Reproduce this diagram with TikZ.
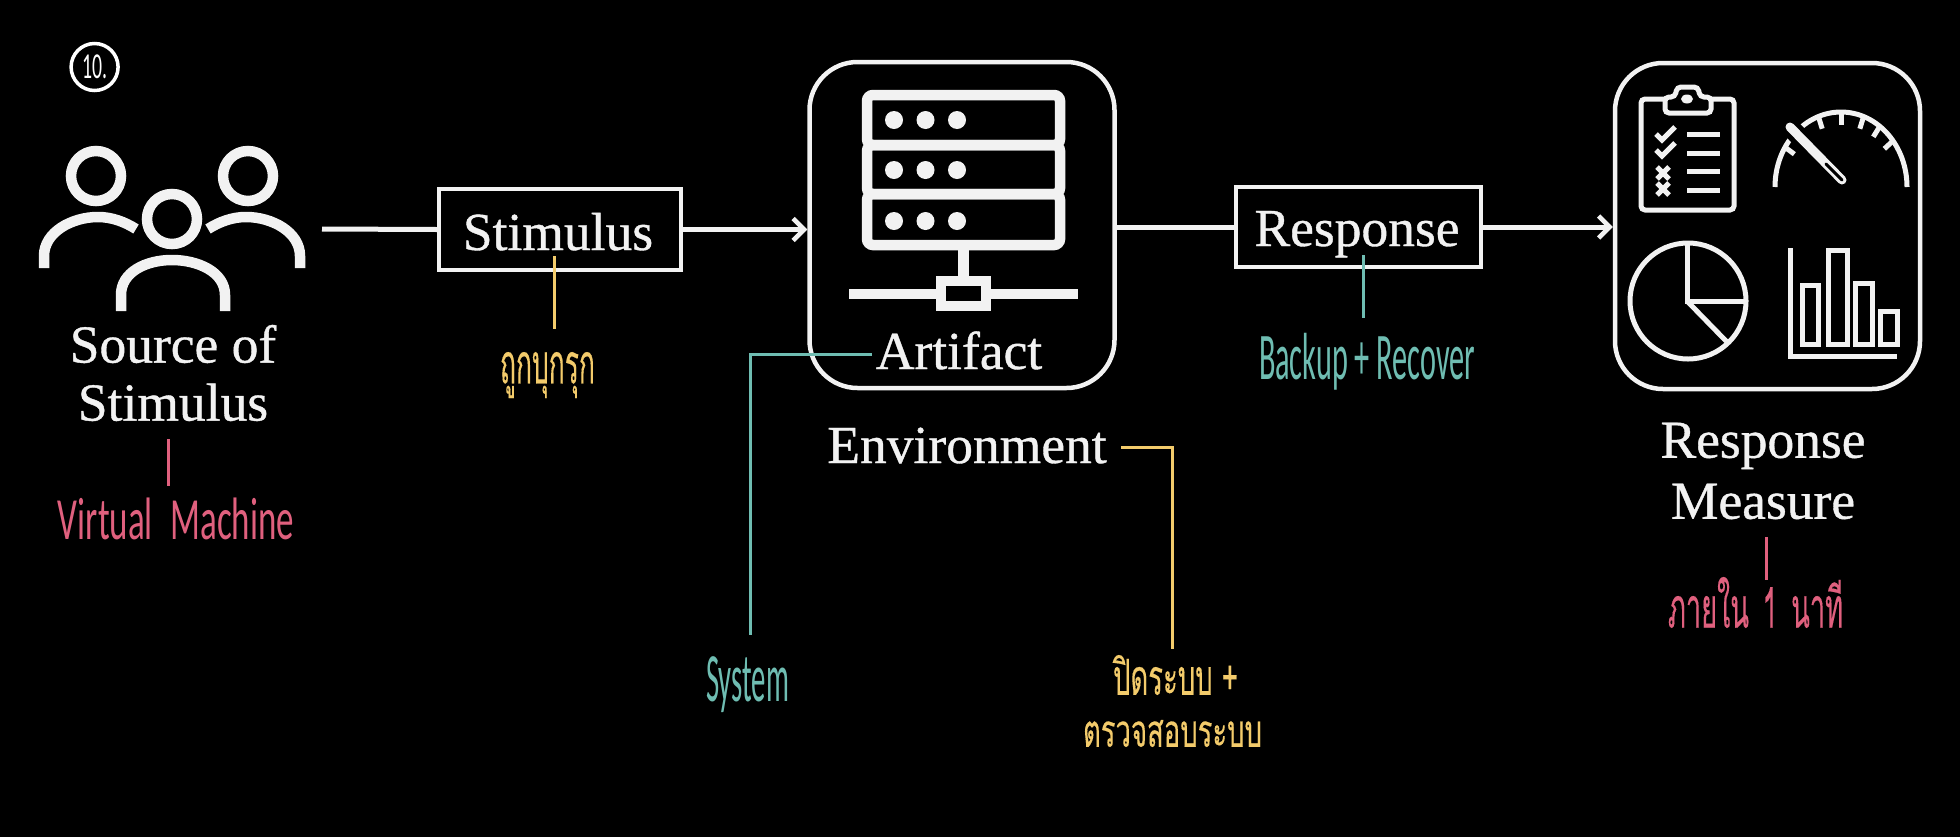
\documentclass[tikz,border=0pt]{standalone}
\usepackage{fontspec}
\usepackage{graphicx}
\usetikzlibrary{arrows.meta,calc}
\setmainfont{Liberation Serif}
\newfontfamily\serifheavy[FakeBold=0.7]{Liberation Serif}
\newfontfamily\thaihand[Script=Thai,FakeBold=0.3]{Loma}
\newfontfamily\latinhand{Carlito}
\definecolor{inkwhite}{HTML}{F2F2F2}
\definecolor{notepink}{HTML}{E0607E}
\definecolor{noteteal}{HTML}{6FBDB2}
\definecolor{noteyellow}{HTML}{F3CB6B}
\tikzset{
  x=1pt,y=-1pt,
  serifbig/.style={text=inkwhite,inner sep=0pt,font=\serifheavy\fontsize{53.5}{61}\selectfont,align=center},
  stimbox/.style={draw=inkwhite,line width=4pt,inner sep=0pt,fill=black},
  bigbox/.style={draw=inkwhite,line width=4.5pt,rounded corners=48pt,inner sep=0pt},
  flowline/.style={draw=inkwhite,line width=5pt},
  flowarrow/.style={flowline,-{Straight Barb[length=11pt,width=22pt,line width=4.5pt]}},
  icon/.style={draw=inkwhite,line width=10.5pt},
  iconthin/.style={draw=inkwhite,line width=5pt},
  pinknote/.style={draw=notepink,line width=3pt},
  tealnote/.style={draw=noteteal,line width=3pt},
  yellownote/.style={draw=noteyellow,line width=3pt},
  hand/.style={inner sep=0pt},
}
\begin{document}
\begin{tikzpicture}
\useasboundingbox (0,0) rectangle (1960,836);
\fill[black] (-5,-5) rectangle (1965,841);

% badge
\node[draw=white,line width=3.5pt,circle,minimum size=47pt,inner sep=0pt,text=white] (badge) at (94.6,67) {\resizebox*{25pt}{24pt}{\latinhand\fontsize{30}{32}\selectfont 10.}};

% people icon
\draw[icon] (96,176) circle (25pt);
\draw[icon] (248,176) circle (25pt);
\draw[icon] (172,219) circle (25pt);
\draw[icon] (44,268) -- (44,256) .. controls (44,232) and (72,217) .. (98,217) .. controls (112,217) and (125,222) .. (136,229);
\draw[icon] (300,268) -- (300,256) .. controls (300,232) and (272,217) .. (246,217) .. controls (232,217) and (219,222) .. (208,229);
\draw[icon] (121,311) -- (121,295) .. controls (121,272) and (146,260) .. (172,260) .. controls (198,260) and (225,272) .. (225,295) -- (225,311);

\node[serifbig] (source) at (173,373) {Source of\\[-3pt]Stimulus};
\node[stimbox,minimum width=242pt,minimum height=81pt] (stim) at (560,229.5) {};
\node[serifbig,anchor=base] (stimtext) at (558,250) {Stimulus};

% artifact
\node[bigbox,minimum width=305pt,minimum height=326pt] (art) at (962,225) {};
\draw[icon,rounded corners=6pt] (867,95) rectangle (1060,145);
\draw[icon,rounded corners=6pt] (867,145) rectangle (1060,194);
\draw[icon,rounded corners=6pt] (867,194) rectangle (1060,245);
\foreach \yy in {120,170,221}
  \foreach \xx in {894,925.5,957}
    \fill[inkwhite] (\xx,\yy) circle (9pt);
\draw[icon] (963.5,245) -- (963.5,281);
\draw[icon] (849,294) -- (941,294);
\draw[icon] (986,294) -- (1078,294);
\draw[icon] (941,281) rectangle (986,306);
\node[serifbig,anchor=base] (arttext) at (959,369) {Artifact};
\node[serifbig,anchor=base] (env) at (967,463) {Environment};

% response
\node[stimbox,minimum width=245pt,minimum height=80pt] (resp) at (1358.5,227) {};
\node[serifbig,anchor=base] (resptext) at (1357,246) {Response};

% measure box
\node[bigbox,minimum width=305pt,minimum height=326pt] (meas) at (1767.5,226) {};
\node[serifbig] (meastext) at (1763,471) {Response\\Measure};

% clipboard
\draw[iconthin,rounded corners=4pt] (1641,99) rectangle (1734,210);
\draw[iconthin,fill=black,rounded corners=4pt] (1665,113) -- (1665,97) -- (1675,97) -- (1677,87) -- (1698,87) -- (1700,97) -- (1711,97) -- (1711,113) -- cycle;
\fill[inkwhite] (1687,99) ellipse (6pt and 4.5pt);
\foreach \yy in {134,153,171,190}
  \draw[draw=inkwhite,line width=5pt] (1687,\yy) -- (1720,\yy);
\foreach \yy in {134,150}{
  \draw[draw=inkwhite,line width=5pt] (1656,\yy) -- (1662,\yy+6) -- (1675,\yy-7);
}
\foreach \yy in {173,189}{
  \draw[draw=inkwhite,line width=5pt] (1657,\yy-6) -- (1669,\yy+6);
  \draw[draw=inkwhite,line width=5pt] (1669,\yy-6) -- (1657,\yy+6);
}

% gauge
\draw[iconthin] (1775,187) arc[start angle=180,end angle=0,x radius=66pt,y radius=75pt];
\foreach \aa in {38,54,70,90,110,148}
  \draw[iconthin] ($(1841,187)+(\aa:66pt and 75pt)$) -- ($(1841,187)+(\aa:55pt and 62pt)$);
\draw[draw=black,line width=19pt] (1783,120) -- (1820,158);
\draw[draw=inkwhite,line width=9pt,line cap=round] (1790,127) -- (1842,180);
\draw[draw=black,line width=3pt,line cap=round] (1826,164) -- (1842,180);

% pie
\draw[iconthin] (1688,301) circle (58pt);
\draw[iconthin] (1687,243) -- (1687,301) -- (1746,301);
\draw[iconthin] (1687,301) -- (1727,342);

% bars
\draw[iconthin] (1790,248) -- (1790,356) -- (1897,356);
\draw[iconthin] (1802,285) rectangle (1818,344);
\draw[iconthin] (1828,250) rectangle (1847,344);
\draw[iconthin] (1855,283) rectangle (1872,344);
\draw[iconthin] (1880,311) rectangle (1897,344);

% flow connectors
\coordinate (srcend) at (322,229);
\draw[flowline] (srcend) -- (stim.west);
\draw[flowarrow] (stim.east) -- (stim.east -| art.west);
\draw[flowline] (art.east |- resp.west) -- (resp.west);
\draw[flowarrow] (resp.east) -- (resp.east -| meas.west);

% notes
\coordinate (p1a) at (168,439); \coordinate (p1b) at (168,486);
\draw[pinknote] (p1a) -- (p1b);
\node[hand,text=notepink] (vm) at (176,519) {\resizebox*{236pt}{42pt}{\latinhand\fontsize{40}{44}\selectfont Virtual\enspace Machine}};

\coordinate (y1a) at (554,256); \coordinate (y1b) at (554,329);
\draw[yellownote] (y1a) -- (y1b);
\node[hand,text=noteyellow] (bukruk) at (547.5,375) {\resizebox*{95pt}{46pt}{\thaihand\fontsize{30}{34}\selectfont ถูกบุกรุก}};

\coordinate (t1a) at (1363,255); \coordinate (t1b) at (1363,318);
\draw[tealnote] (t1a) -- (t1b);
\node[hand,text=noteteal] (backup) at (1367,362) {\resizebox*{216pt}{57pt}{\latinhand\fontsize{36}{40}\selectfont Backup + Recover}};

\coordinate (t2a) at (872,354); \coordinate (t2b) at (750,635);
\draw[tealnote] (t2a) -- (t2a -| t2b) -- (t2b);
\node[hand,text=noteteal] (system) at (747.5,685) {\resizebox*{83pt}{56pt}{\latinhand\fontsize{36}{40}\selectfont System}};

\coordinate (y2a) at (1121,447); \coordinate (y2b) at (1172,649);
\draw[yellownote] (y2a) -- (y2a -| y2b) -- (y2b);
\node[hand,text=noteyellow] (closesys) at (1175.5,675) {\resizebox*{125pt}{40pt}{\thaihand\fontsize{30}{34}\selectfont ปิดระบบ +}};
\node[hand,text=noteyellow] (checksys) at (1172.5,733.5) {\resizebox*{179pt}{27pt}{\thaihand\fontsize{30}{34}\selectfont ตรวจสอบระบบ}};

\coordinate (p2a) at (1766,537); \coordinate (p2b) at (1766,580);
\draw[pinknote] (p2a) -- (p2b);
\node[hand,text=notepink] (within) at (1755.5,602.5) {\resizebox*{175pt}{51pt}{\thaihand\fontsize{30}{34}\selectfont ภายใน\enspace 1\enspace นาที}};
\end{tikzpicture}
\end{document}
